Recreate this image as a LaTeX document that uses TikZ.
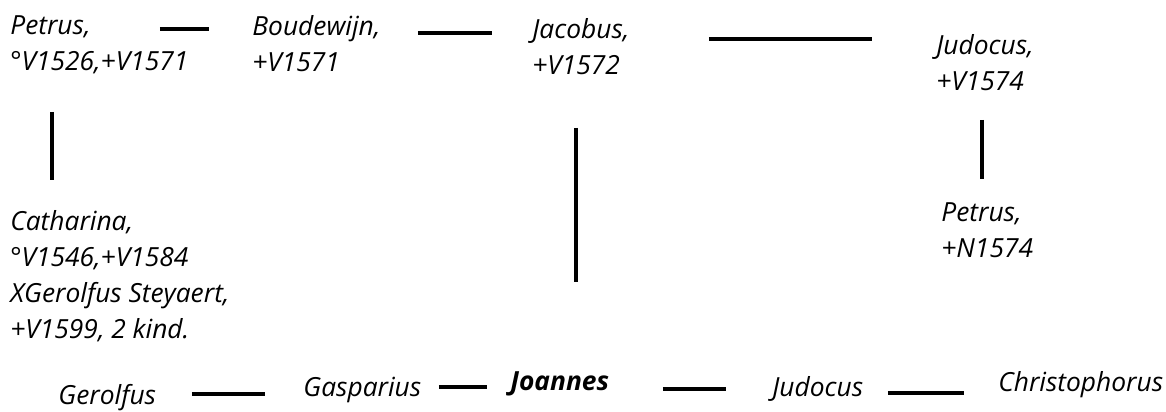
\documentclass[tikz,border=0pt]{standalone}
\usepackage{fontspec}
\setmainfont{Open Sans}
\begin{document}
\begin{tikzpicture}[x=0.02cm,y=-0.02cm,
  person/.style={anchor=north west,inner sep=0pt,align=left,font=\itshape\fontsize{15}{20.5}\selectfont},
  link/.style={line width=2.3pt}]
\useasboundingbox (0,0) rectangle (1166,412);

\node (petrusA) at (10,15) [person] {Petrus,\\°V1526,+V1571};
\node (boudewijn) at (252,15) [person] {Boudewijn,\\+V1571};
\node (jacobus) at (532,18) [person] {Jacobus,\\+V1572};
\node (judocusA) at (936,34) [person] {Judocus,\\+V1574};

\node (catharina) at (10,210) [person] {Catharina,\\°V1546,+V1584\\XGerolfus Steyaert,\\+V1599, 2 kind.};
\node (petrusB) at (941,202) [person] {Petrus,\\+N1574};

\node (gerolfus) at (58,384) [person] {Gerolfus};
\node (gasparius) at (303,377) [person] {Gasparius};
\node (joannes) at (510,371) [person,font=\itshape\bfseries\fontsize{15}{20.5}\selectfont] {Joannes};
\node (judocusB) at (772,376) [person] {Judocus};
\node (christophorus) at (998,371) [person] {Christophorus};

\draw[link,shorten <=3.00cm,shorten >=0.86cm] (petrusA.north west |- 0,29) -- (boudewijn.north west |- 0,29);
\draw[link,shorten <=3.32cm,shorten >=0.80cm] (boudewijn.north west |- 0,33) -- (jacobus.north west |- 0,33);
\draw[link,shorten <=3.54cm,shorten >=1.28cm] (jacobus.north west |- 0,39) -- (judocusA.north west |- 0,39);

\draw[link,shorten <=1.94cm,shorten >=0.60cm] (petrusA.north west -| 52,0) -- (catharina.north west -| 52,0);
\draw[link,shorten <=2.20cm,shorten >=1.78cm] (jacobus.north west -| 576,0) -- (joannes.north west -| 576,0);
\draw[link,shorten <=1.72cm,shorten >=0.46cm] (judocusA.north west -| 982,0) -- (petrusB.north west -| 982,0);

\draw[link,shorten <=2.68cm,shorten >=0.76cm] (gerolfus.north west |- 0,394) -- (gasparius.north west |- 0,394);
\draw[link,shorten <=2.72cm,shorten >=0.46cm] (gasparius.north west |- 0,387) -- (joannes.north west |- 0,387);
\draw[link,shorten <=3.06cm,shorten >=0.92cm] (joannes.north west |- 0,389) -- (judocusB.north west |- 0,389);
\draw[link,shorten <=2.32cm,shorten >=0.68cm] (judocusB.north west |- 0,393) -- (christophorus.north west |- 0,393);
\end{tikzpicture}
\end{document}
